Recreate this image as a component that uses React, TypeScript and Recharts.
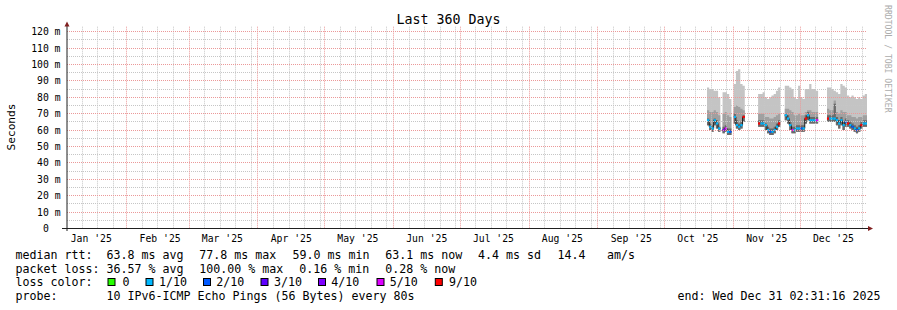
import React from 'react';
import { ComposedChart, Area, Line, Scatter, XAxis, YAxis, CartesianGrid } from 'recharts';

const MONO = '"DejaVu Sans Mono", "Liberation Mono", monospace';

// Time axis: days since graph start (Jan 5 2025 02:31:16), 360 days wide.
const monthLabelDays = [10.9, 41.9, 69.9, 100.9, 130.9, 161.9, 191.9, 222.9, 253.9, 283.9, 314.9, 344.9];
const monthLabels = ["Jan '25", "Feb '25", "Mar '25", "Apr '25", "May '25", "Jun '25", "Jul '25", "Aug '25", "Sep '25", "Oct '25", "Nov '25", "Dec '25"];
const monthStartDays = [26.9, 54.9, 85.9, 115.9, 146.9, 176.9, 207.9, 238.9, 268.9, 299.9, 329.9];
const minorDays = [
  6.9, 13.9, 20.9, 33.9, 40.9, 47.9, 61.9, 68.9, 75.9, 82.9, 92.9, 99.9, 106.9, 113.9,
  122.9, 129.9, 136.9, 143.9, 153.9, 160.9, 167.9, 174.9, 183.9, 190.9, 197.9, 204.9,
  214.9, 221.9, 228.9, 235.9, 245.9, 252.9, 259.9, 266.9, 275.9, 282.9, 289.9, 296.9,
  306.9, 313.9, 320.9, 327.9, 336.9, 343.9, 350.9, 357.9,
];
const yTicks = [0, 10, 20, 30, 40, 50, 60, 70, 80, 90, 100, 110, 120];
const yMinorTicks = [5, 15, 25, 35, 45, 55, 65, 75, 85, 95, 105, 115];
const X_DOMAIN = [0, 360];
const Y_DOMAIN = [0, 123];

// Measured days (gaps = 100% loss)
const days = [
  288, 289, 290, 291, 292, 293,
  295, 296, 297, 298,
  300, 301, 302, 303, 304,
  311, 312, 313, 314, 315, 316, 317, 318, 319, 320,
  323, 324, 325, 326, 327, 328, 329, 330, 331, 332, 333, 334, 335, 336, 337,
  342, 343, 344, 345, 346, 347, 348, 349, 350, 351, 352, 353, 354, 355, 356, 357, 358, 359,
];
// smoke: ms
const pingTop = [
  86, 85, 85, 84, 84, 80,
  83, 83, 82, 79,
  88, 96, 97, 88, 87,
  82, 82, 83, 80, 79, 80, 81, 82, 84, 86,
  87, 87, 86, 85, 80, 79, 87, 80, 79, 85, 85, 88, 85, 85, 84,
  86, 86, 85, 84, 83, 82, 88, 87, 86, 81, 80, 81, 80, 79, 80, 79, 81, 82,
];
const smokeMid = [
  72, 71, 71, 72, 71, 69,
  70, 71, 69, 68,
  74, 75, 74, 73, 72,
  70, 70, 70, 68, 68, 67, 67, 68, 69, 70,
  73, 73, 72, 71, 69, 69, 70, 69, 69, 71, 72, 72, 71, 71, 71,
  73, 72, 72, 78, 71, 70, 72, 71, 71, 69, 69, 68, 68, 67, 68, 68, 69, 69,
];
const smokeInner = [
  67, 64, 63, 67, 66, 62,
  62, 63, 61, 61,
  70, 66, 64, 65, 69,
  66, 66, 66, 64, 62, 61, 61, 62, 64, 66,
  70, 69, 65, 62, 62, 63, 63, 63, 63, 69, 71, 68, 68, 68, 68,
  69, 69, 69, 76, 68, 66, 68, 65, 67, 66, 65, 64, 63, 62, 63, 65, 66, 66,
];
const medianRtt = [
  66, 62, 61, 66, 64, 61,
  60, 61, 59, 59,
  68, 63, 62, 63, 68,
  64, 64, 64, 63, 60, 59, 59, 60, 62, 64,
  69, 67, 63, 60, 60, 61, 61, 61, 61, 67, 69, 66, 66, 66, 66,
  67, 67, 67, 67, 66, 64, 66, 63, 65, 64, 63, 62, 61, 60, 61, 63, 64, 64,
];
const pingLow = [
  63, 60, 59, 63, 61, 59,
  58, 59, 57, 57,
  64, 61, 60, 61, 65,
  62, 62, 62, 60, 58, 57, 57, 58, 60, 62,
  66, 64, 60, 58, 58, 59, 59, 59, 59, 64, 66, 64, 64, 64, 64,
  65, 65, 65, 65, 63, 61, 63, 60, 62, 62, 61, 60, 59, 58, 59, 61, 62, 62,
];
// lost pings out of 10
const lossTenths = [
  1, 1, 1, 1, 1, 1,
  4, 5, 1, 2,
  1, 1, 1, 1, 9,
  9, 1, 1, 1, 1, 2, 1, 1, 1, 9,
  1, 1, 1, 5, 1, 1, 1, 2, 1, 9, 1, 1, 1, 1, 5,
  9, 1, 1, 1, 1, 1, 1, 1, 2, 9, 1, 2, 1, 2, 1, 9, 1, 1,
];

const lossColors: Record<number, string> = {
  0: '#26ff00', 1: '#00b8ff', 2: '#0059ff', 3: '#5e00ff', 4: '#7e00ff', 5: '#dd00ff', 9: '#ff0000',
};
const lossLegendLabels = ['0', '1/10', '2/10', '3/10', '4/10', '5/10', '9/10'];
const lossLegendKeys = [0, 1, 2, 3, 4, 5, 9];

// Build step rows (each measurement covers one day)
type Row = { x: number; outer: number[] | null; upper: number[] | null; inner: number[] | null; med: number | null };
const smokeRows: Row[] = [];
days.forEach((d, i) => {
  if (i > 0 && days[i - 1] !== d - 1) {
    smokeRows.push({ x: d, outer: null, upper: null, inner: null, med: null });
  }
  const r = {
    outer: [pingLow[i], pingTop[i]],
    upper: [pingLow[i], smokeMid[i]],
    inner: [pingLow[i], smokeInner[i]],
    med: medianRtt[i],
  };
  smokeRows.push({ x: d, ...r }, { x: d + 1, ...r });
});
const medianPoints = days.map((d, i) => ({ x: d + 0.5, med: medianRtt[i], loss: lossTenths[i] }));

const MonthTick = (props: any) => {
  const idx = monthLabelDays.indexOf(props.payload.value);
  return (
    <text x={props.x} y={241.5} textAnchor="middle" fontFamily={MONO} fontSize={9.75} fill="#000">
      {monthLabels[idx]}
    </text>
  );
};

const ValueTick = (props: any) => {
  const v = props.payload.value;
  return (
    <text x={v === 0 ? 48.8 : 60.5} y={props.y + 3.5} textAnchor="end" fontFamily={MONO} fontSize={9.75} fill="#000">
      {v === 0 ? '0' : `${v} m`}
    </text>
  );
};

const MedianMark = (props: any) => {
  const { cx, cy, payload } = props;
  if (cx == null || cy == null) return <g />;
  return <rect x={cx - 1.15} y={cy - 1.1} width={2.3} height={2.2} fill={lossColors[payload.loss]} />;
};

// grid coordinates through the axis scales (snapped to pixel centres, like rrdtool)
const xPoints = (values: number[]) => (args: any) => {
  const sc = args?.xAxis?.scale;
  return values.map((v) => {
    const px = typeof sc === 'function' ? sc(v) : args.offset.left + ((v - X_DOMAIN[0]) / (X_DOMAIN[1] - X_DOMAIN[0])) * args.offset.width;
    return Math.floor(px) + 0.5;
  });
};
const yPoints = (values: number[]) => (args: any) => {
  const sc = args?.yAxis?.scale;
  return values.map((v) => {
    const px = typeof sc === 'function' ? sc(v) : args.offset.top + (1 - (v - Y_DOMAIN[0]) / (Y_DOMAIN[1] - Y_DOMAIN[0])) * args.offset.height;
    return Math.floor(px) + 0.5;
  });
};

const legendStyle = { fontFamily: MONO, fontSize: 11.63, fill: '#000', whiteSpace: 'pre' as const };
const boxX = [107.5, 145.5, 203, 260.5, 318, 376.5, 434.8];
const boxTextX = [122.5, 159, 216.3, 274, 331.3, 389.7, 449];

export default function App() {
  return (
    <div style={{ position: 'absolute', left: 0, top: 0, width: 897, height: 310, background: '#fff', overflow: 'hidden' }}>
      <ComposedChart width={897} height={310} data={smokeRows} margin={{ top: 26.7, right: 30, bottom: 51.5, left: 0 }}>
        <XAxis
          dataKey="x"
          type="number"
          domain={X_DOMAIN}
          ticks={monthLabelDays}
          interval={0}
          axisLine={false}
          tickLine={false}
          height={30}
          tick={<MonthTick />}
          allowDataOverflow
        />
        <YAxis
          type="number"
          domain={Y_DOMAIN}
          ticks={yTicks}
          interval={0}
          width={67}
          axisLine={false}
          tickLine={false}
          tick={<ValueTick />}
          allowDataOverflow
        />
        <Area dataKey="outer" type="linear" stroke="none" fill="#c4c4c4" fillOpacity={1} isAnimationActive={false} dot={false} activeDot={false} />
        <Area dataKey="upper" type="linear" stroke="none" fill="#a0a0a0" fillOpacity={1} isAnimationActive={false} dot={false} activeDot={false} />
        <Area dataKey="inner" type="linear" stroke="none" fill="#6a6a6a" fillOpacity={1} isAnimationActive={false} dot={false} activeDot={false} />
        <Line dataKey="med" type="linear" stroke="#202020" strokeWidth={1} dot={false} activeDot={false} isAnimationActive={false} />
        <Scatter data={medianPoints} dataKey="med" shape={MedianMark} isAnimationActive={false} />
        <CartesianGrid
          stroke="#c6c6c6"
          strokeDasharray="1 1"
          fill="none"
          horizontalCoordinatesGenerator={yPoints(yMinorTicks)}
          verticalCoordinatesGenerator={xPoints(minorDays)}
          {...({ zIndex: 1000 } as any)}
        />
        <CartesianGrid
          stroke="#eb9999"
          strokeDasharray="1 1"
          fill="none"
          horizontalCoordinatesGenerator={yPoints(yTicks.filter((v) => v > 0))}
          verticalCoordinatesGenerator={xPoints(monthStartDays)}
          {...({ zIndex: 1001 } as any)}
        />
      </ComposedChart>
      <svg width={897} height={310} style={{ position: 'absolute', left: 0, top: 0, pointerEvents: 'none' }}>
        {/* axes */}
        <line x1={62} y1={228.5} x2={869} y2={228.5} stroke="#1f1f1f" strokeWidth={1} />
        <line x1={67} y1={231} x2={67} y2={26} stroke="#1f1f1f" strokeWidth={1} />
        <polygon points="64.5,26.5 67,21.5 69.5,26.5" fill="#801f1f" />
        <polygon points="868,226 873,228.5 868,231" fill="#801f1f" />
        {/* title */}
        <text x={448.5} y={24} textAnchor="middle" fontFamily={MONO} fontSize={13.3} fill="#000">Last 360 Days</text>
        {/* vertical labels */}
        <text x={0} y={0} transform="translate(15,127) rotate(-90)" textAnchor="middle" fontFamily={MONO} fontSize={11.2} fill="#000">Seconds</text>
        <text x={0} y={0} transform="translate(884.5,5) rotate(90)" textAnchor="start" fontFamily={MONO} fontSize={8.15} fill="#acacac">RRDTOOL / TOBI OETIKER</text>
        {/* legend */}
        <text y={258.6} style={legendStyle}>
          <tspan x={15.5}>median rtt:</tspan>
          <tspan x={106.5}>63.8 ms avg</tspan>
          <tspan x={199.2}>77.8 ms max</tspan>
          <tspan x={292.5}>59.0 ms min</tspan>
          <tspan x={385.2}>63.1 ms now</tspan>
          <tspan x={478}>4.4 ms sd</tspan>
          <tspan x={557.5}>14.4</tspan>
          <tspan x={607}>am/s</tspan>
        </text>
        <text y={272.5} style={legendStyle}>
          <tspan x={15.5}>packet loss:</tspan>
          <tspan x={106.5}>36.57 % avg</tspan>
          <tspan x={199.2}>100.00 % max</tspan>
          <tspan x={299.2}>0.16 % min</tspan>
          <tspan x={385.2}>0.28 % now</tspan>
        </text>
        <text x={15.5} y={286.4} style={legendStyle}>loss color:</text>
        {lossLegendKeys.map((k, i) => (
          <g key={'lc' + k}>
            <rect x={boxX[i] + 0.5} y={278.5} width={7} height={7} fill={lossColors[k]} stroke="#000" strokeWidth={1} />
            <text x={boxTextX[i]} y={286.4} style={legendStyle}>{lossLegendLabels[i]}</text>
          </g>
        ))}
        <text y={300.3} style={legendStyle}>
          <tspan x={15.5}>probe:</tspan>
          <tspan x={106.5}>10 IPv6-ICMP Echo Pings (56 Bytes) every 80s</tspan>
        </text>
        <text x={677.6} y={300.3} style={legendStyle}>end: Wed Dec 31 02:31:16 2025</text>
      </svg>
    </div>
  );
}
